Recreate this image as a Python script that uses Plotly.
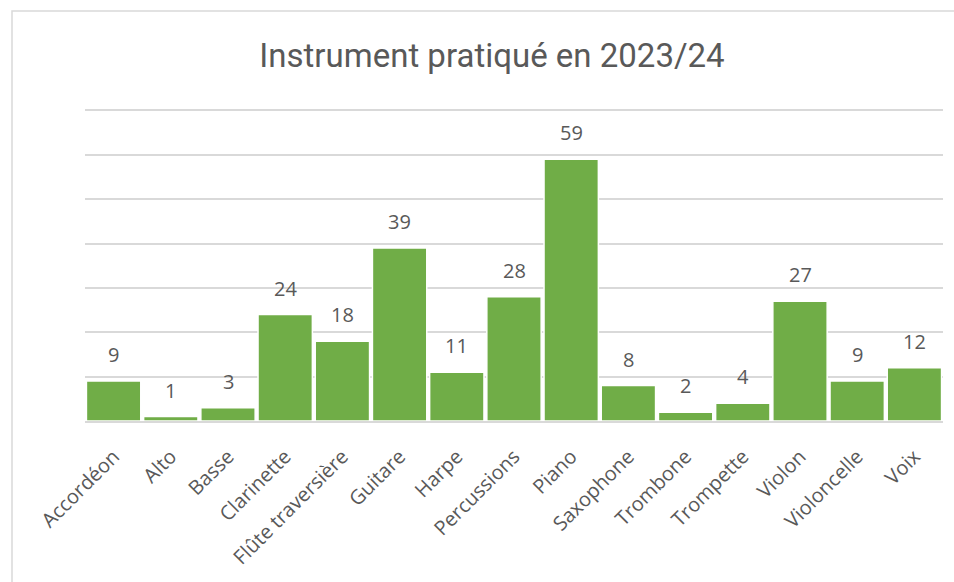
import plotly.graph_objects as go

categories = ["Accordéon", "Alto", "Basse", "Clarinette", "Flûte traversière", "Guitare",
              "Harpe", "Percussions", "Piano", "Saxophone", "Trombone", "Trompette",
              "Violon", "Violoncelle", "Voix"]
values = [9, 1, 3, 24, 18, 39, 11, 28, 59, 8, 2, 4, 27, 9, 12]

GREEN = "#70AD47"
TXT = "#595959"
FONT = "Open Sans"

fig = go.Figure(go.Bar(
    x=categories, y=values,
    marker=dict(color=GREEN, line=dict(color="white", width=1.5)),
))

annotations = [
    dict(x=c, y=v, text=str(v), showarrow=False, yanchor="bottom", yshift=11,
         font=dict(family=FONT, size=20, color=TXT))
    for c, v in zip(categories, values)
]

TOP = 106
fig.update_layout(
    width=954, height=582,
    margin=dict(l=85, r=11, t=TOP, b=161),
    paper_bgcolor="white", plot_bgcolor="white",
    bargap=0.05,
    showlegend=False,
    title=dict(text="Instrument pratiqué en 2023/24", x=492 / 954,
               xanchor="center", y=1 - 55 / 582, yanchor="middle",
               font=dict(family="Roboto", size=33, color=TXT)),
    xaxis=dict(tickangle=-45, tickfont=dict(family=FONT, size=20, color=TXT),
               showline=True, linecolor="#D9D9D9", linewidth=2, ticks="",
               showgrid=False, ticklabelstandoff=14),
    yaxis=dict(range=[0, 71], dtick=10, showticklabels=False, showgrid=True,
               gridcolor="#D9D9D9", gridwidth=1.5, zeroline=False, ticks=""),
    annotations=annotations,
    shapes=[dict(type="rect", xref="paper", yref="paper",
                 x0=(12 - 85) / 858, x1=(960 - 85) / 858,
                 y0=(421 - 590) / (421 - TOP), y1=(421 - 11) / (421 - TOP),
                 line=dict(color="#D9D9D9", width=1.5), layer="below")],
)

fig.write_html("out.html", config={"displayModeBar": False},
               post_script="document.body.style.margin='0';document.body.style.overflow='hidden';")
